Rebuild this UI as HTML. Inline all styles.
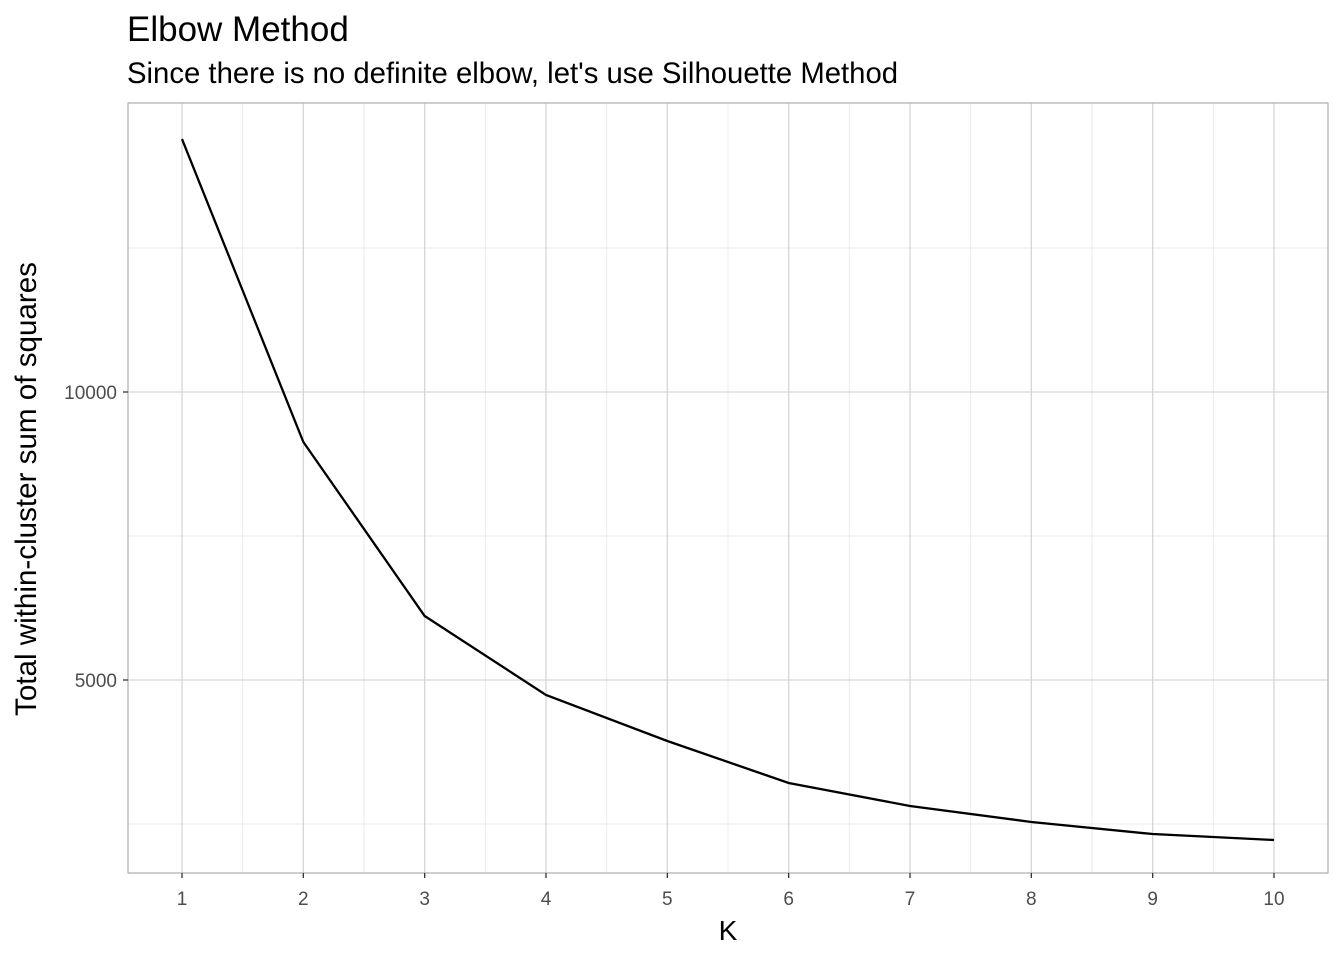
<!DOCTYPE html>
<html><head><meta charset="utf-8"><style>
body{margin:0;background:#fff;font-family:"Liberation Sans",Arial,sans-serif}
</style></head><body>
<svg id="chart" width="1344" height="960" xmlns="http://www.w3.org/2000/svg">
<text x="127" y="41" font-size="35" fill="#000">Elbow Method</text>
<text x="127" y="83" font-size="29.3" fill="#000">Since there is no definite elbow, let's use Silhouette Method</text>
<g id="grid"></g>
<rect x="128" y="103" width="1200" height="770" fill="none" stroke="#b3b3b3" stroke-width="1.3"/>
<g id="axes"></g>
<path id="line" fill="none" stroke="#000" stroke-width="2.3"/>
<text x="728" y="940" font-size="28" text-anchor="middle">K</text>
<text transform="translate(36,489) rotate(-90)" font-size="29.6" text-anchor="middle">Total within-cluster sum of squares</text>
</svg>
<script>
const kValues=[1,2,3,4,5,6,7,8,9,10];
const wss=[14392,9132,6111,4740,3941,3212,2813,2535,2326,2222];
const yTicks=[5000,10000];
const yMinor=[2500,7500,12500];
const ns="http://www.w3.org/2000/svg";
const xs=k=>182+(k-1)*(1274-182)/9;
const ys=v=>392-(v-10000)*288/5000;
const grid=document.getElementById('grid'),axes=document.getElementById('axes');
function ln(p,x1,y1,x2,y2,c,w){const l=document.createElementNS(ns,'line');l.setAttribute('x1',x1);l.setAttribute('y1',y1);l.setAttribute('x2',x2);l.setAttribute('y2',y2);l.setAttribute('stroke',c);l.setAttribute('stroke-width',w);p.appendChild(l);return l;}
function tx(p,x,y,s,a){const t=document.createElementNS(ns,'text');t.setAttribute('x',x);t.setAttribute('y',y);t.setAttribute('font-size',19);t.setAttribute('fill','#4d4d4d');t.setAttribute('text-anchor',a);t.textContent=s;p.appendChild(t);return t;}
yMinor.forEach(v=>{const l=ln(grid,128,ys(v),1328,ys(v),'#ebebeb',1);

});
for(let i=0;i<kValues.length-1;i++){const x=(xs(kValues[i])+xs(kValues[i+1]))/2;const l=ln(grid,x,103,x,873,'#ebebeb',1);

}
yTicks.forEach(v=>{const l=ln(grid,128,ys(v),1328,ys(v),'#d6d6d6',1.3);


ln(axes,123,ys(v),128,ys(v),'#333',1.3);
const t=tx(axes,117,ys(v)+7,String(v),'end');

});
kValues.forEach(k=>{const l=ln(grid,xs(k),103,xs(k),873,'#d6d6d6',1.3);


ln(axes,xs(k),873,xs(k),878,'#333',1.3);
const t=tx(axes,xs(k),905,String(k),'middle');

});
document.getElementById('line').setAttribute('d',kValues.map((k,i)=>(i?'L':'M')+xs(k)+','+ys(wss[i])).join(''));
</script>
</body></html>
